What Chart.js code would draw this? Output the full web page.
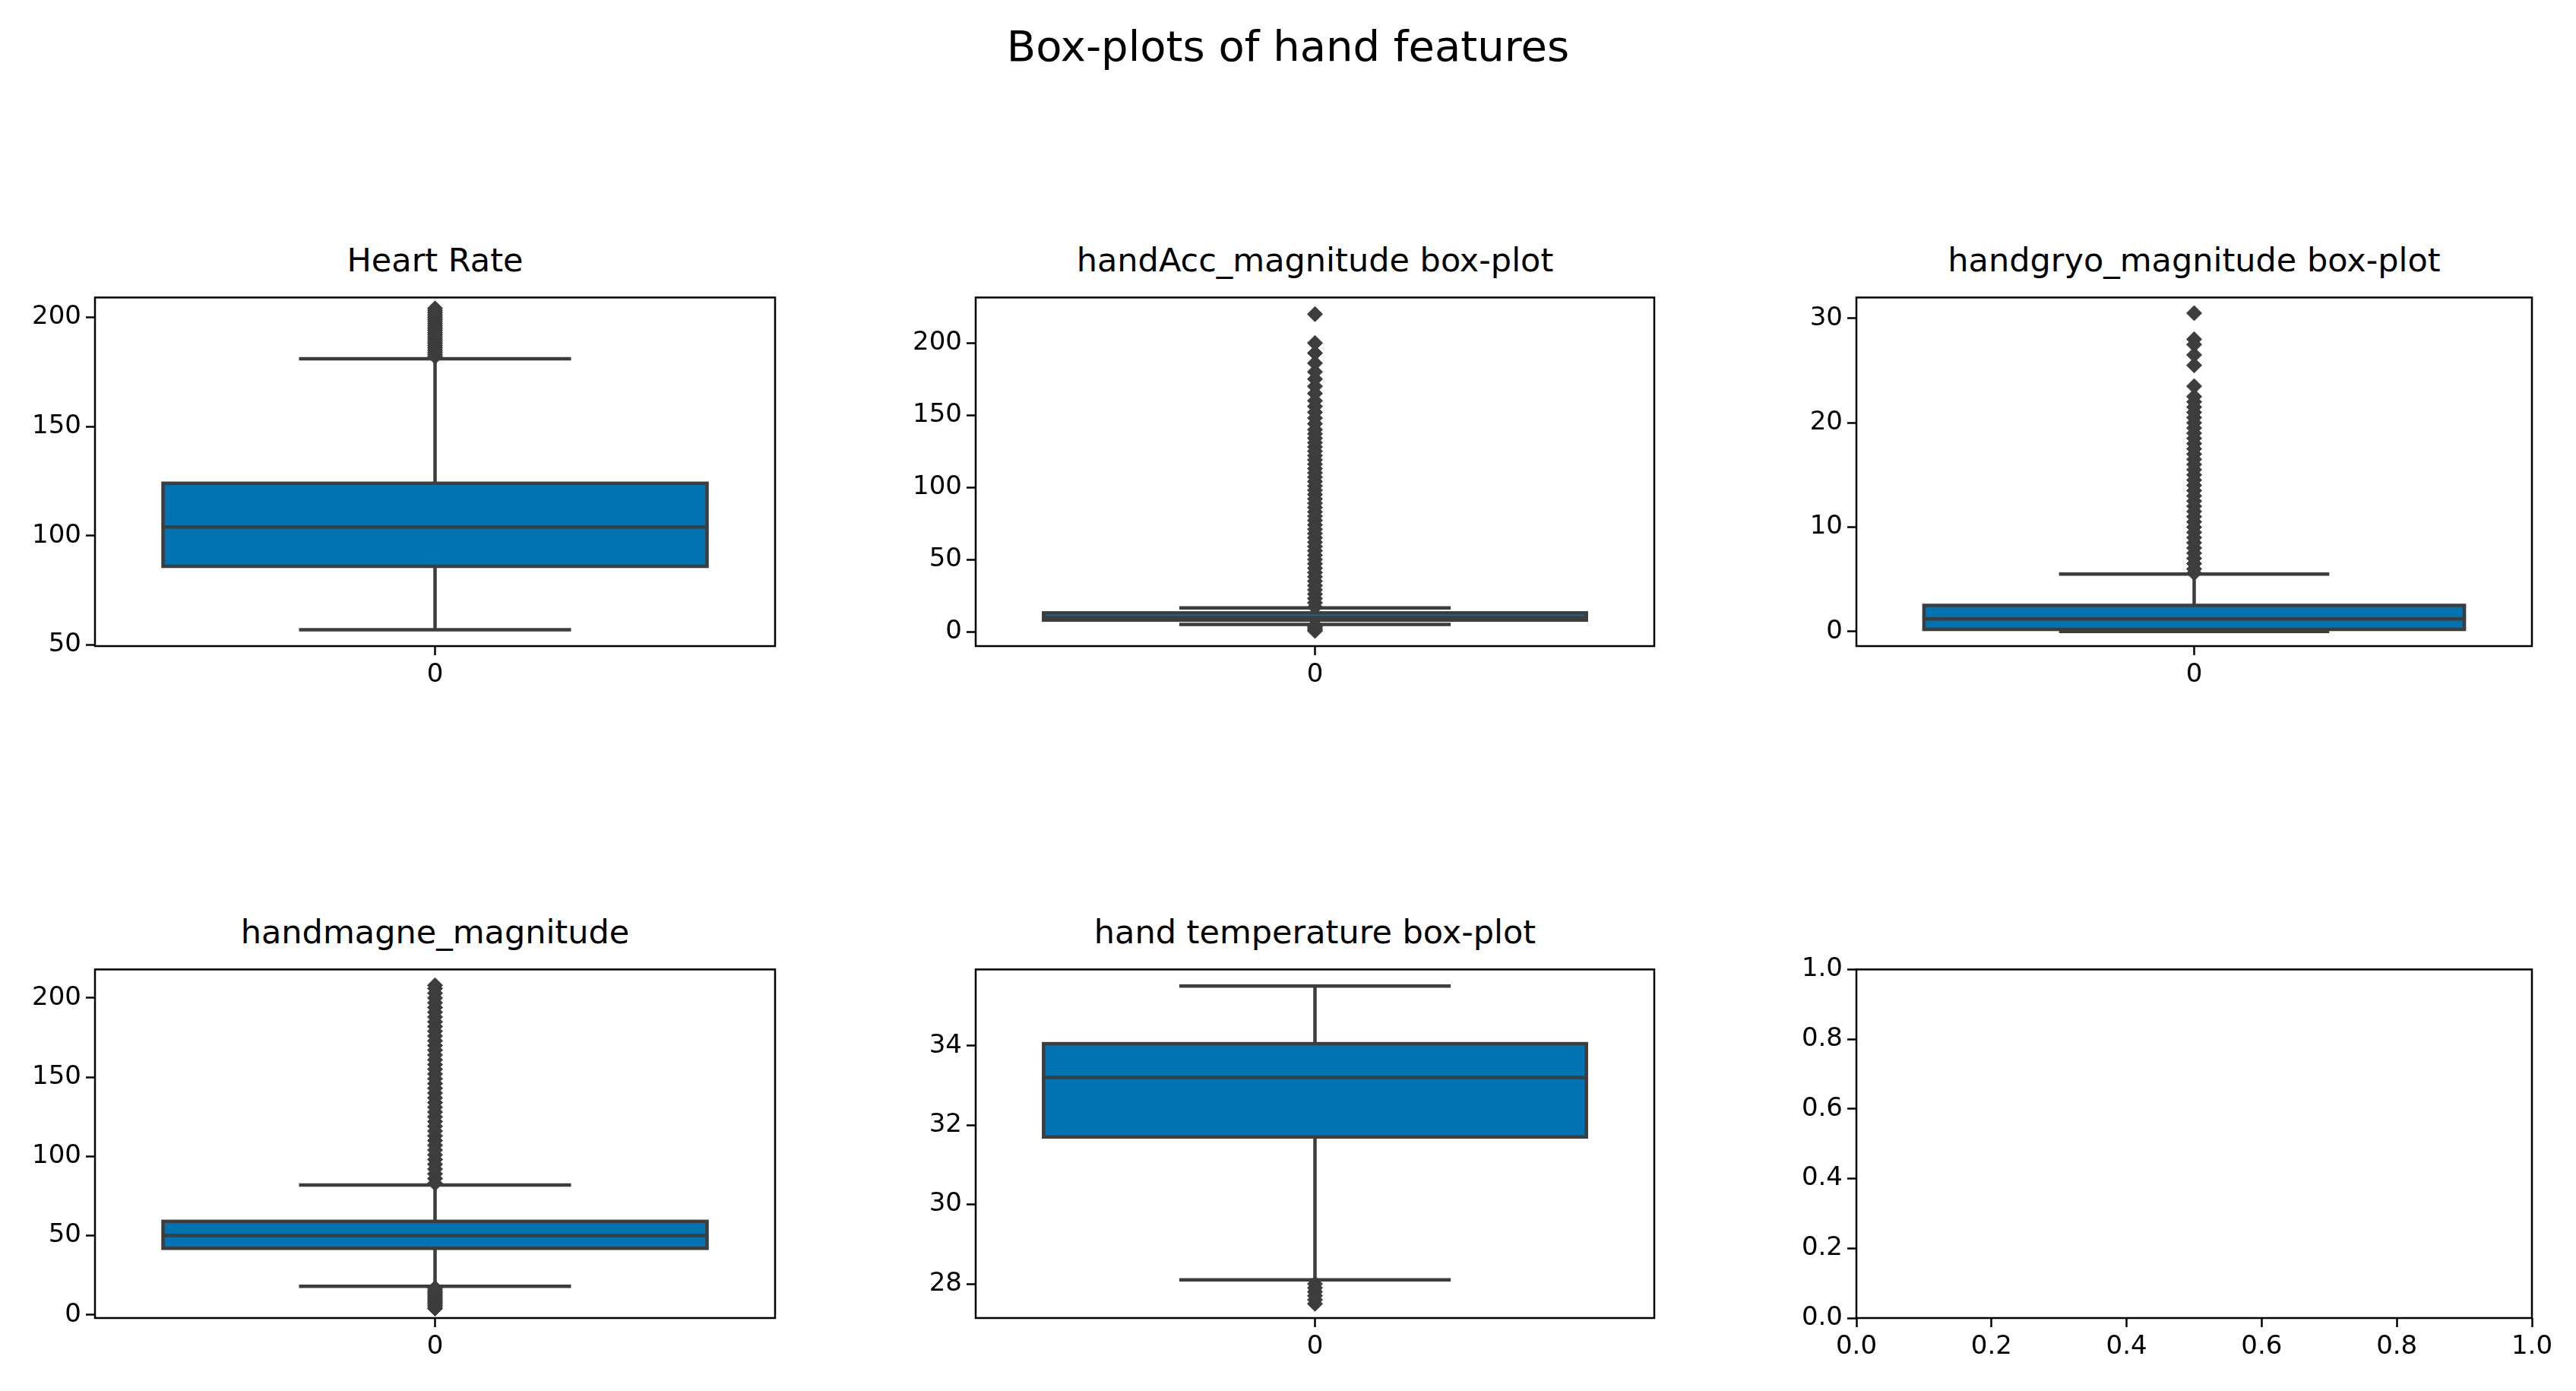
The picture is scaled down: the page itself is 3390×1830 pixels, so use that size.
<!DOCTYPE html>
<html><head><meta charset="utf-8">
<script src="https://cdn.jsdelivr.net/npm/chart.js@4.4.0/dist/chart.umd.min.js"></script>
<style>
body{margin:0;width:3390px;height:1830px;background:#fff;position:relative;font-family:"DejaVu Sans",sans-serif;overflow:hidden}
.t{position:absolute;text-align:center;color:#000;white-space:nowrap}
canvas{position:absolute}
</style></head><body>
<div class="t" style="left:0;width:3390px;top:28px;font-size:56px">Box-plots of hand features</div>
<script>
const titles = ["Heart Rate","handAcc_magnitude box-plot","handgryo_magnitude box-plot","handmagne_magnitude","hand temperature box-plot",""];
const categories = ["0"];
// [whiskerLow, q1, median, q3, whiskerHigh]
const boxStats = [
  [57, 86, 104, 124, 181],
  [5, 8, 9.8, 13, 16.5],
  [0, 0.2, 1.2, 2.5, 5.5],
  [18, 42, 50, 59, 82],
  [28.1, 31.7, 33.2, 34.05, 35.5],
  null
];
const outliers = [
  [182,183,184,185,186,187,188,189,190,191,192,193,194,195,196,197,198,199,200,201,202,203,204],
  [0.5,1.5,2.5,3.5,4.5,17,20,23,26,29,32,35,38,41,44,47,50,53,56,59,62,65,68,71,74,77,80,83,86,89,92,95,98,101,104,107,110,113,116,119,122,125,128,131,134,137,140,144,148,152,156,160,165,170,175,180,186,193,200,220],
  [5.6,6,6.5,7,7.5,8,8.5,9,9.5,10,10.5,11,11.5,12,12.5,13,13.5,14,14.5,15,15.5,16,16.5,17,17.5,18,18.5,19,19.5,20,20.5,21,21.5,22,22.5,23.5,25.5,26.5,27.5,28,30.5],
  [4,5,6,7,8,9,10,11,12,13,14,15,16,17,83,86,89,92,95,98,101,104,107,110,113,116,119,122,125,128,131,134,137,140,143,146,149,152,155,158,161,164,167,170,173,176,179,182,185,188,191,194,197,200,203,206,208],
  [27.5,27.6,27.7,27.8,27.9,28.0],
  []
];
const yRanges = [[49.5,209],[-10,231.5],[-1.4,32],[-2,218],[27.14,35.92],[0,1]];
const yTicks = [
  [50,100,150,200],
  [0,50,100,150,200],
  [0,10,20,30],
  [0,50,100,150,200],
  [28,30,32,34],
  [0,0.2,0.4,0.6,0.8,1.0]
];
const xRanges = [[-0.5,0.5],[-0.5,0.5],[-0.5,0.5],[-0.5,0.5],[-0.5,0.5],[0,1]];
const xTicks = [[0],[0],[0],[0],[0],[0,0.2,0.4,0.6,0.8,1.0]];

const axL=[125,1284,2443], axW=[895,893,889], axT=[385,1269], axH=465;
const PADL=130, PADT=20, XH=90, PADR=60;
const LINE='#3d3d3d', FILL='#0173b2';

const frame = {id:'frame', afterDraw(c){const a=c.chartArea,x=c.ctx;x.save();x.strokeStyle='#000';x.lineWidth=2.5;x.strokeRect(a.left,a.top,a.right-a.left,a.bottom-a.top);x.restore();}};
const boxPlugin = {id:'boxp', beforeDatasetsDraw(c){
  const s=c.options.plugins.boxp.stats; if(!s) return;
  const X=c.scales.x,Y=c.scales.y,x=c.ctx;
  const [lo,q1,md,q3,hi]=s;
  const cx=X.getPixelForValue(0), bl=X.getPixelForValue(-0.4), br=X.getPixelForValue(0.4);
  const cl=X.getPixelForValue(-0.2), cr=X.getPixelForValue(0.2);
  x.save(); x.strokeStyle=LINE; x.lineWidth=4.5;
  x.beginPath();
  x.moveTo(cx,Y.getPixelForValue(lo)); x.lineTo(cx,Y.getPixelForValue(q1));
  x.moveTo(cx,Y.getPixelForValue(q3)); x.lineTo(cx,Y.getPixelForValue(hi));
  x.moveTo(cl,Y.getPixelForValue(lo)); x.lineTo(cr,Y.getPixelForValue(lo));
  x.moveTo(cl,Y.getPixelForValue(hi)); x.lineTo(cr,Y.getPixelForValue(hi));
  x.stroke();
  const t=Y.getPixelForValue(q3), b=Y.getPixelForValue(q1);
  x.fillStyle=FILL; x.fillRect(bl,t,br-bl,b-t); x.strokeRect(bl,t,br-bl,b-t);
  x.beginPath(); x.moveTo(bl,Y.getPixelForValue(md)); x.lineTo(br,Y.getPixelForValue(md)); x.stroke();
  x.restore();
}};

for(let i=0;i<6;i++){
  const r=Math.floor(i/3), col=i%3;
  const d=document.createElement('div'); d.className='t';
  d.style.cssText=`left:${axL[col]}px;width:${axW[col]}px;top:${axT[r]-68}px;font-size:43px`;
  d.textContent=titles[i]; document.body.appendChild(d);
  const cv=document.createElement('canvas');
  const W=PADL+axW[col]+PADR, H=PADT+axH+XH;
  cv.style.left=(axL[col]-PADL)+'px'; cv.style.top=(axT[r]-PADT)+'px';
  cv.style.width=W+'px'; cv.style.height=H+'px'; cv.width=W; cv.height=H;
  document.body.appendChild(cv);
  const empty=i===5;
  const gridOpt={display:true,drawOnChartArea:false,drawTicks:true,tickLength:12,tickWidth:2.5,tickColor:'#000'};
  new Chart(cv,{type:'scatter',
    data:{datasets:[{data:outliers[i].map(v=>({x:0,y:v})),pointStyle:'rectRot',radius:10,backgroundColor:LINE,borderColor:LINE,borderWidth:1}]},
    options:{responsive:false,animation:false,devicePixelRatio:1,
      layout:{padding:{top:PADT,right:PADR,left:0,bottom:0}},
      plugins:{legend:{display:false},tooltip:{enabled:false},boxp:{stats:boxStats[i]}},
      scales:{
        x:{type:'linear',min:xRanges[i][0],max:xRanges[i][1],grid:gridOpt,border:{display:false},
          afterFit(s){s.height=XH;},
          afterBuildTicks(s){ s.ticks=xTicks[i].map(v=>({value:v})); },
          ticks:{color:'#000',font:{family:'DejaVu Sans',size:34},padding:6,autoSkip:false,maxRotation:0,
            callback:(v)=>empty?v.toFixed(1):categories[0]}},
        y:{min:yRanges[i][0],max:yRanges[i][1],grid:gridOpt,border:{display:false},
          afterFit(s){s.width=PADL;},
          afterBuildTicks(s){ s.ticks=yTicks[i].map(v=>({value:v})); },
          ticks:{color:'#000',font:{family:'DejaVu Sans',size:34},padding:6,autoSkip:false,
            callback:(v)=>empty?v.toFixed(1):String(v)}}
      }},
    plugins:[frame,boxPlugin]});
}
</script>
</body></html>
